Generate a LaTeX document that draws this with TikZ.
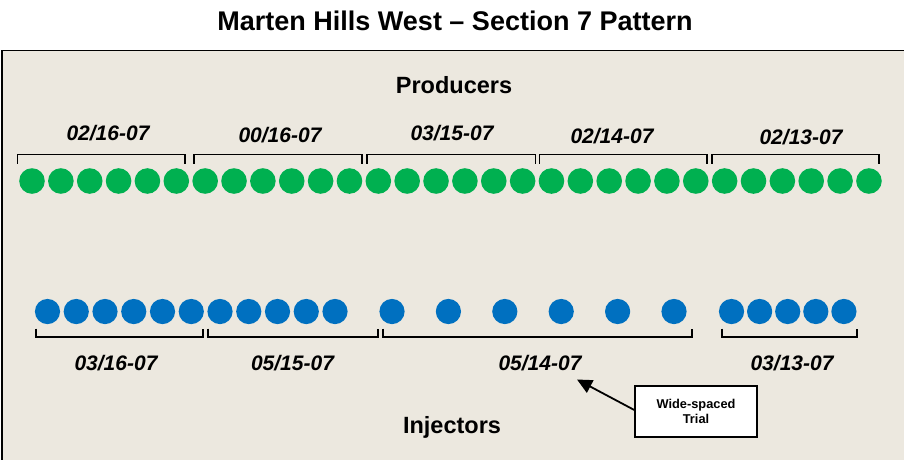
\documentclass[tikz,border=0pt]{standalone}
\usepackage{fontspec}
\setmainfont{Liberation Sans}
\usetikzlibrary{arrows.meta}
\definecolor{bg}{HTML}{ECE8DF}
\definecolor{prodgreen}{HTML}{00B050}
\definecolor{injblue}{HTML}{0070C0}
\tikzset{
  prod/.style={circle, fill=prodgreen, minimum size=25.6pt, inner sep=0pt},
  inj/.style={circle, fill=injblue, minimum size=25.2pt, inner sep=0pt},
  brk/.style={line width=1.8pt, black},
  lbl/.style={font=\fontsize{21}{25}\selectfont\bfseries\itshape, inner sep=0pt},
  head/.style={font=\fontsize{23.5}{27}\selectfont\bfseries, inner sep=0pt},
  callout/.style={draw=black, line width=1.4pt, fill=white, minimum width=122pt, minimum height=51pt, inner sep=0pt, align=center, font=\fontsize{12.8}{15.5}\selectfont\bfseries},
}
\begin{document}
\begin{tikzpicture}[x=1pt,y=-1pt]
\useasboundingbox (0,0) rectangle (904,459);
\begin{scope}
\clip (0,0) rectangle (904,459);
\draw[line width=1.6pt, fill=bg] (2,50.5) rectangle (920,480);
\end{scope}
% title
\node[font=\fontsize{27}{31}\selectfont\bfseries, inner sep=0pt] (title) at (455,21) {Marten Hills West – Section 7 Pattern};
\node[head] (producers) at (454,85) {Producers};
\node[head] (injectors) at (452,427) {Injectors};
% producers
\foreach \i in {0,...,29} {
  \node[prod] (p\i) at ({32+28.86*\i},181) {};
}
% producer brackets
\foreach \a/\b in {17.5/185, 194/362, 367/535.5, 539.5/707, 712/879} {
  \draw[brk] (\a,163.5) -- (\a,154.5) -- (\b,154.5) -- (\b,163.5);
}
\node[lbl] (l1) at (108,133) {02/16-07};
\node[lbl] (l2) at (280,135) {00/16-07};
\node[lbl] (l3) at (452,133) {03/15-07};
\node[lbl] (l4) at (612,136) {02/14-07};
\node[lbl] (l5) at (801,137) {02/13-07};
% injectors
\foreach \i in {0,...,10} {
  \node[inj] (ia\i) at ({47.5+28.75*\i},311.5) {};
}
\foreach \i in {0,...,5} {
  \node[inj] (ib\i) at ({392+56.4*\i},311.5) {};
}
\foreach \i in {0,...,4} {
  \node[inj] (ic\i) at ({731.5+28.1*\i},311.5) {};
}
% injector brackets
\foreach \a/\b in {36/202.7, 208/378.3, 383.3/691.7, 722.3/857.3} {
  \draw[brk] (\a,328.5) -- (\a,337) -- (\b,337) -- (\b,328.5);
}
\node[lbl] (m1) at (116,363) {03/16-07};
\node[lbl] (m2) at (292.5,363) {05/15-07};
\node[lbl] (m3) at (540,363) {05/14-07};
\node[lbl] (m4) at (792,363) {03/13-07};
% callout
\node[callout] (box) at (696,411.5) {Wide-spaced\\Trial};
\coordinate (tip) at (577,379.5);
\draw[line width=1.8pt, -{Triangle[length=15pt,width=14pt]}] (box.west) ++(0,-1.5) -- (tip);
\end{tikzpicture}
\end{document}
